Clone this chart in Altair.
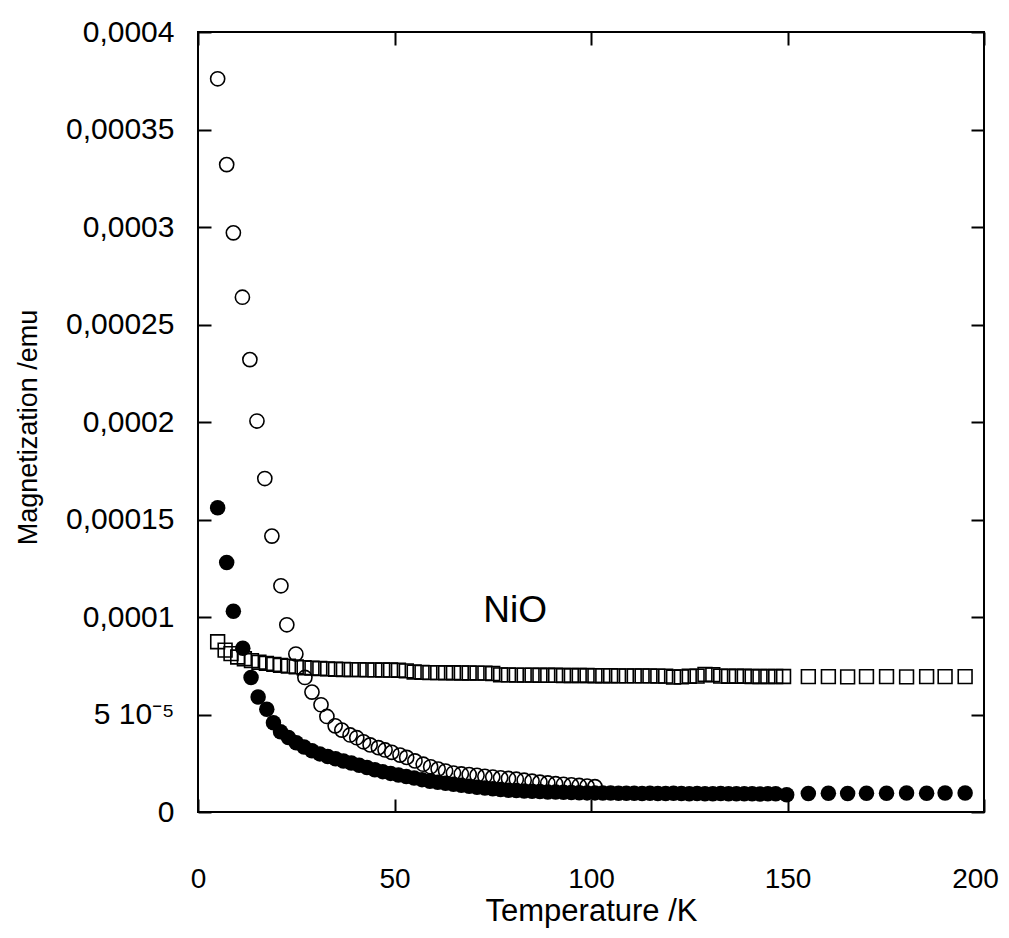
import json
import altair as alt
import pandas as pd

# ---------------- data (magnetization in units of 1e-5 emu) ----------------
open_T = [5.0, 7.3, 9.0, 11.3, 13.2, 15.0, 17.0, 18.8, 21.1, 22.6,
          24.9, 27.2, 29.0, 31.3, 32.8, 34.9, 36.6, 38.7, 40.4, 42.1,
          43.8, 45.9, 47.6, 49.3, 51.4, 53.1, 55.2, 57.3, 59.2, 61.1,
          63.0, 65.0, 67.0, 69.0, 71.0, 73.0, 75.0, 77.0, 79.0, 81.0,
          83.0, 85.0, 87.0, 89.0, 91.0, 93.0, 95.0, 97.0, 99.0, 101.0]
open_M = [37.6, 33.2, 29.7, 26.4, 23.2, 20.05, 17.1, 14.15, 11.6, 9.6,
          8.1, 6.9, 6.15, 5.5, 4.9, 4.42, 4.2, 3.95, 3.81, 3.6,
          3.44, 3.3, 3.18, 3.06, 2.92, 2.8, 2.62, 2.45, 2.32, 2.2,
          2.1, 2.0, 1.95, 1.92, 1.88, 1.83, 1.79, 1.75, 1.72, 1.68,
          1.63, 1.58, 1.53, 1.49, 1.45, 1.42, 1.39, 1.36, 1.33, 1.30]

filled_T = [5.0, 7.3, 9.0, 11.4, 13.5, 15.3, 17.5, 19.2,
            21, 23, 25, 27, 29, 31, 33, 35, 37, 39, 41, 43, 45, 47, 49,
            51, 53, 55, 57, 59, 61, 63, 65, 67, 69, 71, 73, 75, 77, 79,
            81, 83, 85, 87, 89, 91, 93, 95, 97, 99, 101, 103, 105, 107, 109,
            111, 113, 115, 117, 119, 121, 123, 125, 127, 129, 131, 133, 135,
            137, 139, 141, 143, 145, 147,
            149.8, 155.3, 160.4, 165.3, 170.1, 175.2, 180.3, 185.4, 190.1, 195.2]
filled_M = [15.6, 12.8, 10.3, 8.4, 6.9, 5.9, 5.27, 4.58,
            4.12, 3.82, 3.55, 3.33, 3.14, 2.98, 2.85, 2.73, 2.62, 2.51, 2.40, 2.28, 2.17, 2.07, 1.98,
            1.90, 1.82, 1.74, 1.66, 1.58, 1.52, 1.47, 1.42, 1.37, 1.32, 1.27, 1.23, 1.19, 1.15, 1.12,
            1.10, 1.08, 1.06, 1.05, 1.03, 1.02, 1.01, 1.00, 0.99, 0.98, 0.98, 0.97, 0.97, 0.96, 0.96,
            0.96, 0.95, 0.96, 0.95, 0.95, 0.96, 0.95, 0.94, 0.95, 0.94, 0.94, 0.95, 0.94,
            0.94, 0.93, 0.94, 0.92, 0.93, 0.94,
            0.88, 0.95, 0.96, 0.95, 0.96, 0.96, 0.97, 0.96, 0.97, 0.97]

square_T = [5.0, 6.9, 8.4, 10.1, 11.8, 13.6, 15.5, 17.4, 19.3,
            21, 23, 25, 27, 29, 31, 33, 35, 37, 39, 41, 43, 45, 47, 49,
            51, 53, 55, 57, 59, 61, 63, 65, 67, 69, 71, 73, 75, 77, 79,
            81, 83, 85, 87, 89, 91, 93, 95, 97, 99, 101, 103, 105, 107, 109,
            111, 113, 115, 117, 119, 121, 123, 125, 127, 129, 131, 133, 135,
            137, 139, 141, 143, 145, 147, 149,
            155.3, 160.4, 165.3, 170.1, 175.2, 180.3, 185.4, 190.1, 195.2]
square_M = [8.73, 8.30, 8.12, 7.95, 7.86, 7.76, 7.68, 7.62, 7.57,
            7.52, 7.48, 7.44, 7.40, 7.38, 7.36, 7.34, 7.32, 7.31, 7.30, 7.30, 7.29, 7.29, 7.28, 7.28,
            7.27, 7.24, 7.18, 7.16, 7.15, 7.15, 7.14, 7.14, 7.13, 7.13, 7.12, 7.12, 7.10, 7.03, 7.03,
            7.02, 7.02, 7.02, 7.01, 7.01, 7.01, 7.00, 7.00, 7.00, 7.00, 6.99, 6.99, 6.99, 6.98, 6.98,
            6.98, 6.98, 6.98, 6.97, 6.97, 6.92, 6.93, 6.96, 6.97, 7.05, 7.04, 6.97, 6.96,
            6.96, 6.96, 6.95, 6.95, 6.95, 6.95, 6.95,
            6.94, 6.94, 6.93, 6.94, 6.94, 6.93, 6.94, 6.94, 6.94]

label_T = [80.7]
label_M = [10.3]
label_text = ["NiO"]

x_ticks = [0, 50, 100, 150, 200]
y_ticks = [0, 0.00005, 0.0001, 0.00015, 0.0002, 0.00025, 0.0003, 0.00035, 0.0004]
y_tick_labels = ["0", "5 10\u207b\u2075", "0,0001", "0,00015", "0,0002",
                 "0,00025", "0,0003", "0,00035", "0,0004"]

SCALE_E = 1e-5
open_df = pd.DataFrame({"T": open_T, "M": [v * SCALE_E for v in open_M]})
filled_df = pd.DataFrame({"T": filled_T, "M": [v * SCALE_E for v in filled_M]})
square_df = pd.DataFrame({"T": square_T, "M": [v * SCALE_E for v in square_M]})
label_df = pd.DataFrame({"T": label_T, "M": [v * SCALE_E for v in label_M], "txt": label_text})

# ---------------- styling ----------------
FONT = "Liberation Sans, Arial, Helvetica, sans-serif"
W, H = 786, 780
TICK = 13

xs = alt.Scale(domain=[0, 200], nice=False)
ys = alt.Scale(domain=[0, 0.0004], nice=False)

x_bottom = alt.Axis(values=x_ticks, orient="bottom", offset=-TICK, tickSize=TICK,
                    tickWidth=2, tickColor="black", domain=False, grid=False,
                    labelFont=FONT, labelFontSize=28, labelColor="black",
                    labelPadding=53, labelFlush=False, format="d",
                    labelOffset={"condition": {"test": "datum.value == 200", "value": -9},
                                 "value": 0},
                    title="Temperature /K", titleFont=FONT, titleFontSize=31,
                    titleFontWeight="normal", titleColor="black",
                    titleX=W / 2, titleY=121, titleAlign="center",
                    titleBaseline="alphabetic")
y_left = alt.Axis(values=y_ticks, orient="left", offset=-TICK, tickSize=TICK,
                  tickWidth=2, tickColor="black", domain=False, grid=False,
                  labelFont=FONT, labelFontSize=30, labelColor="black",
                  labelPadding=24, labelFlush=False,
                  labelExpr=json.dumps(y_tick_labels) + "[round(datum.value*20000)]",
                  title="Magnetization /emu", titleFont=FONT, titleFontSize=27,
                  titleFontWeight="normal", titleColor="black",
                  titleX=-183, titleY=395, titleAngle=270, titleAlign="center",
                  titleBaseline="middle")
x_top = alt.Axis(values=x_ticks, orient="top", offset=-TICK, tickSize=TICK,
                 tickWidth=2, tickColor="black", domain=False, grid=False,
                 labels=False, title=None)
y_right = alt.Axis(values=y_ticks, orient="right", offset=-TICK, tickSize=TICK,
                   tickWidth=2, tickColor="black", domain=False, grid=False,
                   labels=False, title=None)

filled = alt.Chart(filled_df).mark_point(
    shape="circle", filled=True, color="black", size=240, opacity=1
).encode(x=alt.X("T:Q", scale=xs, axis=x_bottom),
         y=alt.Y("M:Q", scale=ys, axis=y_left))

opened = alt.Chart(open_df).mark_point(
    shape="circle", filled=False, color="black", size=200, strokeWidth=1.6, opacity=1
).encode(x=alt.X("T:Q", scale=xs, axis=None),
         y=alt.Y("M:Q", scale=ys, axis=None))

squares = alt.Chart(square_df).mark_point(
    shape="square", filled=False, color="black", size=190, strokeWidth=1.6, opacity=1
).encode(x=alt.X("T:Q", scale=xs, axis=None),
         y=alt.Y("M:Q", scale=ys, axis=None))

label = alt.Chart(label_df).mark_text(
    font=FONT, fontSize=37, color="black", align="center", baseline="middle"
).encode(x=alt.X("T:Q", scale=xs, axis=None),
         y=alt.Y("M:Q", scale=ys, axis=None), text="txt:N")

frame_axes = alt.Chart(square_df).mark_point(opacity=0).encode(
    x=alt.X("T:Q", scale=xs, axis=x_top),
    y=alt.Y("M:Q", scale=ys, axis=y_right))

chart = alt.layer(filled, opened, squares, label, frame_axes).resolve_axis(
    x="independent", y="independent"
).properties(
    width=W, height=H,
    autosize=alt.AutoSizeParams(type="none"),
    padding={"left": 190, "top": 24, "right": 17, "bottom": 118},
    background="white",
).configure_view(stroke="black", strokeWidth=2)

chart.save("out.html", embed_options={"renderer": "svg", "actions": False})
